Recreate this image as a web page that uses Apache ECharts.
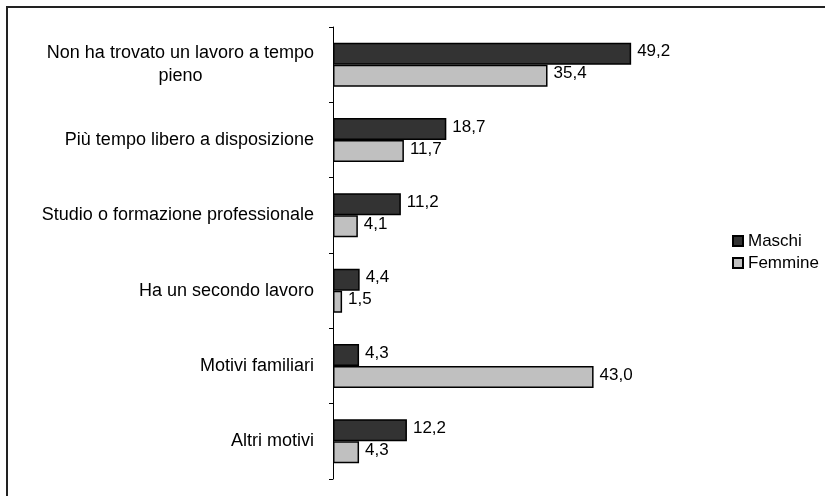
<!DOCTYPE html>
<html>
<head>
<meta charset="utf-8">
<script src="https://cdn.jsdelivr.net/npm/echarts@6/dist/echarts.min.js"></script>
<style>
  html, body { margin: 0; padding: 0; background: #fff; }
  #chart { width: 825px; height: 496px; }
</style>
</head>
<body>
<div id="chart"></div>
<script>
// Motivi del lavoro a tempo parziale, per sesso (valori percentuali)
const categories = [
  'Non ha trovato un lavoro a tempo\npieno',
  'Più tempo libero a disposizione',
  'Studio o formazione professionale',
  'Ha un secondo lavoro',
  'Motivi familiari',
  'Altri motivi'
];
const maschi = [49.2, 18.7, 11.2, 4.4, 4.3, 12.2];
const femmine = [35.4, 11.7, 4.1, 1.5, 43.0, 4.3];
const seriesNames = ['Maschi', 'Femmine'];

const FONT = "'Liberation Sans', Arial, sans-serif";
const fmt = p => p.value.toFixed(1).replace('.', ',');

const chart = echarts.init(document.getElementById('chart'), null, { renderer: 'canvas' });

const barLabel = {
  show: true,
  position: 'right',
  distance: 6,
  offset: [0, -2],
  formatter: fmt,
  color: '#000',
  fontSize: 17,
  fontFamily: FONT
};

chart.setOption({
  animation: false,
  backgroundColor: '#fff',
  textStyle: { fontFamily: FONT },
  graphic: [{
    type: 'rect',
    shape: { x: 7, y: 7, width: 900, height: 600 },
    style: { fill: 'none', stroke: '#222', lineWidth: 2 },
    silent: true
  }],
  legend: {
    orient: 'vertical',
    left: 727,
    top: 227,
    itemWidth: 10,
    itemHeight: 10,
    itemGap: 4,
    icon: 'rect',
    data: seriesNames,
    textStyle: { color: '#000', fontSize: 17, fontFamily: FONT, lineHeight: 18, padding: [0, 0, 0, 0] }
  },
  grid: { left: 333, top: 27, width: 303, height: 452, containLabel: false },
  xAxis: {
    type: 'value',
    min: 0,
    max: 50,
    show: false
  },
  yAxis: {
    type: 'category',
    inverse: true,
    data: categories,
    axisLine: { show: true, lineStyle: { color: '#000', width: 1 } },
    axisTick: { show: true, length: 4, lineStyle: { color: '#000' } },
    axisLabel: {
      margin: 19,
      color: '#000',
      fontSize: 18,
      fontFamily: FONT,
      lineHeight: 23,
      formatter: v => v.split('\n').map(l => '{c|' + l + '}').join('\n'),
      rich: {
        c: { align: 'center', fontSize: 18, fontFamily: FONT, color: '#000', lineHeight: 23 }
      }
    },
    splitLine: { show: false }
  },
  series: [
    {
      name: seriesNames[0],
      type: 'bar',
      data: maschi,
      barWidth: 22,
      barGap: '0%',
      itemStyle: { color: '#333333', borderColor: '#000', borderWidth: 1.5 },
      label: barLabel
    },
    {
      name: seriesNames[1],
      type: 'bar',
      data: femmine,
      barWidth: 22,
      barGap: '0%',
      itemStyle: { color: '#c0c0c0', borderColor: '#000', borderWidth: 1.5 },
      label: barLabel
    }
  ]
});
</script>
</body>
</html>
